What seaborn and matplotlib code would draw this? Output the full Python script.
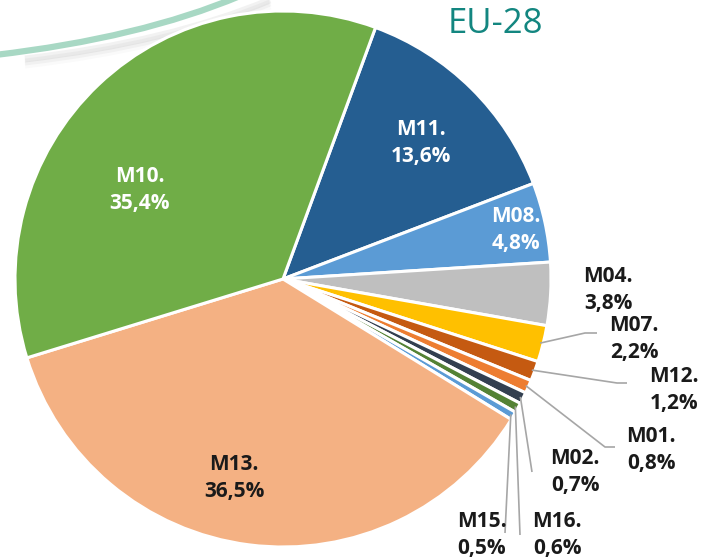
import numpy as np
import matplotlib
matplotlib.use("Agg")
import matplotlib.pyplot as plt
from matplotlib.path import Path
from matplotlib.patches import PathPatch
import seaborn as sns

# Anteile je Maßnahme, EU-28
codes = ["M11.", "M08.", "M04.", "M07.", "M12.", "M01.", "M02.", "M16.", "M15.", "M13.", "M10."]
shares = [13.6, 4.8, 3.8, 2.2, 1.2, 0.8, 0.7, 0.6, 0.5, 36.5, 35.4]
colors = ["#255E91", "#5B9BD5", "#BFBFBF", "#FFC000", "#C55A11", "#ED7D31",
          "#333F50", "#548235", "#5B9BD5", "#F4B183", "#70AD47"]

sns.set_theme(style="white")
plt.rcParams['font.family'] = ['Open Sans', 'DejaVu Sans']

W, H = 701, 560
fig = plt.figure(figsize=(W / 100, H / 100), dpi=100)
ax = fig.add_axes([0, 0, 1, 1])

def px(x, y):
    # Pixelkoordinaten (oben links) -> Datenkoordinaten
    return x, H - y

cx, cy = px(283, 279)
R = 268

# dekorativer Bogen oben links, mit weichem Schatten
curve = [(-5, 55), (140, 38), (240, -4)]
codes_path = [Path.MOVETO, Path.CURVE3, Path.CURVE3]
for k, a in [(4, 0.10), (7, 0.07), (10, 0.04)]:
    sh = [px(x + 30, y + k) for x, y in curve]
    ax.add_patch(PathPatch(Path(sh, codes_path), fill=False, lw=5,
                           edgecolor="#808080", alpha=a))
ax.add_patch(PathPatch(Path([px(x, y) for x, y in curve], codes_path),
                       fill=False, lw=4.5, edgecolor="#A8D8C4"))

wedges, _ = ax.pie(shares, colors=colors, startangle=69.8, counterclock=False,
                   center=(cx, cy), radius=R, normalize=True,
                   wedgeprops=dict(edgecolor="white", linewidth=2.2))

def label(v):
    return f"{v:.1f}".replace(".", ",") + "%"

# Beschriftungen im Kreis
inner = {"M11.": ((421, 143), "white"), "M08.": ((516, 230), "white"),
         "M10.": ((140, 190), "white"), "M13.": ((234, 478), "#1a1a1a")}
# Beschriftungen außen, mit Führungslinien (Knick, Ende)
outer = {"M04.": ((608, 290), None),
         "M07.": ((634, 339), [(585, 333), (597, 333)]),
         "M12.": ((674, 390), [(617, 383), (627, 383)]),
         "M01.": ((651, 450), [(605, 447), (615, 447)]),
         "M02.": ((575, 472), [(532, 472)]),
         "M16.": ((557, 535), [(520, 535)]),
         "M15.": ((482, 535), [(505, 533)])}

for w, code, v in zip(wedges, codes, shares):
    txt = f"{code}\n{label(v)}"
    if code in inner:
        (x, y), c = inner[code]
    else:
        (x, y), pts = outer[code]
        c = "#1a1a1a"
        if pts:
            mid = np.deg2rad((w.theta1 + w.theta2) / 2)
            xs = [cx + (R - 3) * np.cos(mid)] + [p[0] for p in pts]
            ys = [cy + (R - 3) * np.sin(mid)] + [H - p[1] for p in pts]
            ax.plot(xs, ys, color="#A6A6A6", lw=1.2, solid_capstyle="butt")
    ax.text(*px(x, y), txt, ha="center", va="center", fontsize=15,
            fontweight="bold", color=c, linespacing=1.4)

ax.text(*px(495, 24), "EU-28", ha="center", va="center", fontsize=25,
        color="#138680")

ax.set_xlim(0, W)
ax.set_ylim(0, H)
ax.set_aspect("equal")
ax.axis("off")

fig.savefig("out.png", dpi=100)
